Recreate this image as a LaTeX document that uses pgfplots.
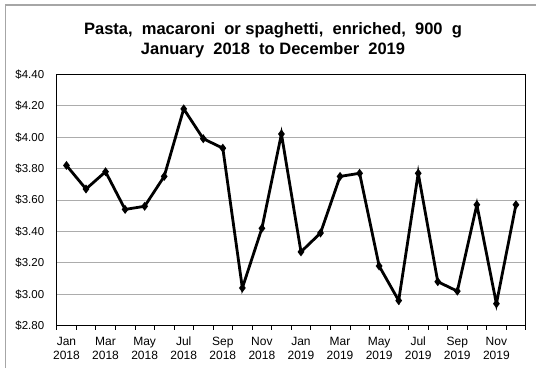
\documentclass[border=0pt]{standalone}
\usepackage{pgfplots}
\pgfplotsset{compat=1.18}
\usepackage{fontspec}
\setmainfont{Liberation Sans}
\begin{document}
\begin{tikzpicture}[x=1bp,y=1bp]
\useasboundingbox (0,0) rectangle (536,368);
\draw[gray!70, line width=1.2bp] (5.5,0) -- (5.5,363) -- (536,363);
\node[align=center, font=\fontsize{16.5bp}{20bp}\selectfont\bfseries] at (273,328)
  {Pasta,\ \ macaroni\ \ or spaghetti,\ \ enriched,\ \ 900\ \ g\\January\ \ 2018\ \ to December\ \ 2019};
\begin{axis}[
  at={(56.7bp,42.3bp)}, anchor=south west,
  width=469bp, height=251.4bp, scale only axis,
  xmin=-0.5, xmax=23.5, ymin=2.8, ymax=4.4,
  ytick={2.8,3.0,...,4.41},
  y tick style={draw=none},
  yticklabel={\$\pgfmathprintnumber[fixed,fixed zerofill,precision=2]{\tick}},
  /pgf/number format/assume math mode=true,
  yticklabel style={font=\fontsize{11.5bp}{13bp}\selectfont, xshift=-5bp},
  ymajorgrids, grid style={gray!65, line width=0.9bp},
  xtick={-0.5,0.5,...,23.5}, xticklabels={},
  xtick pos=bottom,
  tick align=outside, major tick length=4bp,
  x tick style={black, line width=0.6bp},
  extra x ticks={0,2,4,6,8,10,12,14,16,18,20,22},
  extra x tick labels={{Jan\\2018},{Mar\\2018},{May\\2018},{Jul\\2018},{Sep\\2018},{Nov\\2018},{Jan\\2019},{Mar\\2019},{May\\2019},{Jul\\2019},{Sep\\2019},{Nov\\2019}},
  extra x tick style={major tick length=0pt, grid=none},
  xticklabel style={align=center, font=\fontsize{12bp}{14bp}\selectfont, yshift=-8bp},
  axis line style={black, line width=0.8bp},
  clip=false,
]
\addplot[black, line width=2.8bp, mark=diamond*, mark size=2.2bp, mark options={solid}] coordinates {
(0,3.82) (1,3.67) (2,3.78) (3,3.54) (4,3.56) (5,3.75) (6,4.18) (7,3.99) (8,3.93) (9,3.04) (10,3.42) (11,4.02)
(12,3.27) (13,3.39) (14,3.75) (15,3.77) (16,3.18) (17,2.96) (18,3.77) (19,3.08) (20,3.02) (21,3.57) (22,2.94) (23,3.57)
};
\end{axis}
\end{tikzpicture}
\end{document}
